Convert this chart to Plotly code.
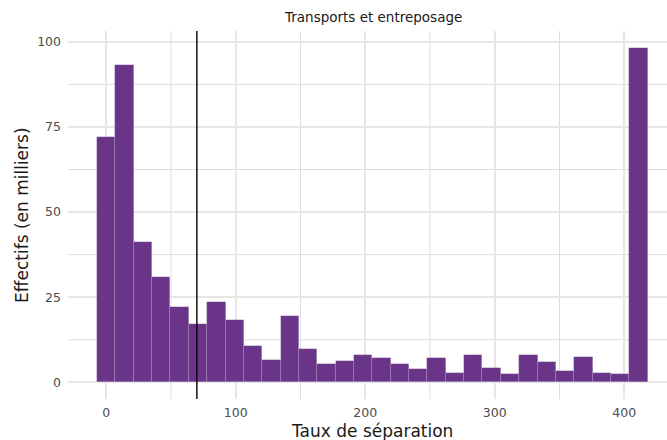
import plotly.graph_objects as go

# Data
bin_width = 411 / 29
bin_centers = [round(i * bin_width, 2) for i in range(30)]
counts = [72.0, 93.1, 41.2, 31.0, 22.2, 17.1, 23.7, 18.2, 10.8, 6.7,
          19.6, 9.9, 5.5, 6.2, 8.1, 7.0, 5.5, 3.9, 7.0, 2.7,
          8.0, 4.3, 2.3, 7.9, 5.9, 3.4, 7.3, 2.6, 2.4, 98.1]
vline_x = 70
x_ticks = [0, 100, 200, 300, 400]
y_ticks = [0, 25, 50, 75, 100]
title_text = "Transports et entreposage"
x_title = "Taux de séparation"
y_title = "Effectifs (en milliers)"

fig = go.Figure()

# minor gridlines as shapes
minor_x = [50, 150, 250, 350]
minor_y = [12.5, 37.5, 62.5, 87.5]
shapes = []
for mx in minor_x:
    shapes.append(dict(type="line", xref="x", yref="paper", x0=mx, x1=mx, y0=0, y1=1,
                       line=dict(color="#dcdcdc", width=1), layer="below"))
for my in minor_y:
    shapes.append(dict(type="line", xref="paper", yref="y", x0=0, x1=1, y0=my, y1=my,
                       line=dict(color="#dcdcdc", width=1), layer="below"))
shapes.append(dict(type="line", xref="x", yref="paper", x0=vline_x, x1=vline_x, y0=0, y1=1,
                   line=dict(color="black", width=1.4), layer="above"))

fig.add_trace(go.Bar(
    x=bin_centers, y=counts, width=bin_width,
    marker=dict(color="#6a3589", line=dict(color="rgba(255,255,255,0.18)", width=0.6)),
    showlegend=False,
))

fig.update_layout(
    width=667, height=440,
    margin=dict(l=68, r=0, t=31, b=41),
    paper_bgcolor="white", plot_bgcolor="white",
    font=dict(family="DejaVu Sans", color="#4d4d4d"),
    bargap=0,
    shapes=shapes,
    annotations=[
        dict(text=title_text, xref="paper", yref="paper", x=0.51, y=1, yshift=14,
             showarrow=False, font=dict(size=13.5, color="#1a1a1a"), xanchor="center", yanchor="middle"),
        dict(text=x_title, xref="paper", yref="paper", x=0.508, y=0, yshift=-32,
             showarrow=False, font=dict(size=17, color="#1a1a1a"), xanchor="center", yanchor="middle"),
        dict(text=y_title, xref="paper", yref="paper", x=0, xshift=-46, y=0.5,
             showarrow=False, textangle=-90, font=dict(size=17, color="#1a1a1a"),
             xanchor="center", yanchor="middle"),
    ],
)
fig.update_xaxes(range=[-29.5, 433], tickvals=x_ticks, showgrid=True, gridcolor="#e6e6e6",
                 gridwidth=1.6, zeroline=False, ticks="", tickfont=dict(size=12.5, color="#4d4d4d"),
                 ticklabelstandoff=4, showline=False)
fig.update_yaxes(range=[-4.9, 103.2], tickvals=y_ticks, showgrid=True, gridcolor="#e6e6e6",
                 gridwidth=1.6, zeroline=False, ticks="", tickfont=dict(size=12.5, color="#4d4d4d"),
                 ticklabelstandoff=6, showline=False)

fig.write_html("out.html", config={"displayModeBar": False},
               post_script="document.body.style.margin='0';")
